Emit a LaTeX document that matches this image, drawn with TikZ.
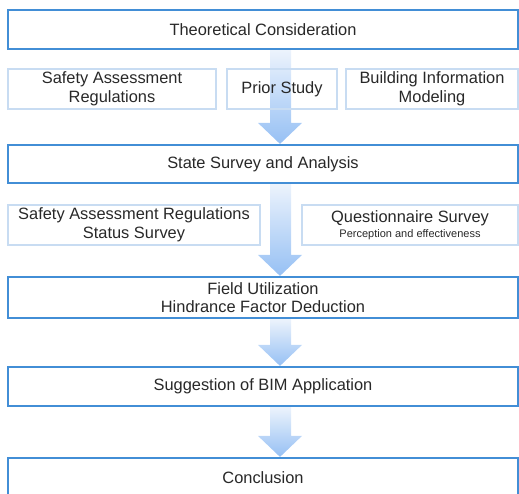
\documentclass[tikz,border=0pt]{standalone}
\usepackage{fontspec}
\setmainfont{Liberation Sans}
\usetikzlibrary{backgrounds,calc}
\definecolor{mainblue}{RGB}{66,142,214}
\definecolor{mainblueL}{RGB}{150,195,238}
\definecolor{subblue}{RGB}{200,220,242}
\definecolor{txt}{RGB}{40,40,40}
\definecolor{arrTop}{RGB}{236,243,252}
\definecolor{arrBot}{RGB}{150,192,244}
\tikzset{
  mainbox/.style={draw=mainblue, line width=2.2pt, fill=white, minimum width=510pt, inner sep=0pt, align=center, text=txt, font=\fontsize{16.4}{18.5}\selectfont},
  subbox/.style={draw=subblue, line width=1.6pt, inner sep=0pt, minimum height=40pt, align=center, text=txt, font=\fontsize{16.4}{18.5}\selectfont},
  blockarrow/.style={top color=arrTop, bottom color=arrBot, draw=none}
}
\newcommand\flowarrow[2]{%
  \shade[blockarrow] let \p1=(#1.south), \p2=(#2.north) in
    (\x1+7pt,\y1) -- (\x1+28pt,\y1) -- (\x1+28pt,\y2+21pt) -- (\x1+39pt,\y2+21pt)
    -- (\x1+17pt,\y2) -- (\x1-5pt,\y2+21pt) -- (\x1+7pt,\y2+21pt) -- cycle;}
\begin{document}
\begin{tikzpicture}[x=1pt,y=-1pt]
\useasboundingbox (0,0) rectangle (519,493);
\clip (0,0) rectangle (519,493);
\node[mainbox, minimum height=39pt] (b1) at (263,29.5) {Theoretical Consideration};
\node[subbox, minimum width=208pt] (sa) at (112,89) {Safety Assessment\\Regulations};
\node[subbox, minimum width=110pt] (sb) at (282,89) {Prior Study};
\node[subbox, minimum width=172pt] (sc) at (432,89) {Building Information\\Modeling};
\node[mainbox, minimum height=38pt] (b2) at (263,164) {State Survey and Analysis};
\node[subbox, minimum width=252pt] (sd) at (134,225) {Safety Assessment Regulations\\Status Survey};
\node[subbox, minimum width=216pt] (se) at (410,225) {Questionnaire Survey\\[-3pt]{\fontsize{11}{12}\selectfont Perception and effectiveness}};
\node[mainbox, minimum height=41pt] (b3) at (263,297.5) {Field Utilization\\Hindrance Factor Deduction};
\node[mainbox, minimum height=39pt] (b4) at (263,386.5) {Suggestion of BIM Application};
\node[mainbox, minimum height=39pt] (b5) at (263,477.5) {Conclusion};
\begin{pgfonlayer}{background}
\flowarrow{b1}{b2}
\flowarrow{b2}{b3}
\flowarrow{b3}{b4}
\flowarrow{b4}{b5}
\end{pgfonlayer}
\end{tikzpicture}
\end{document}
